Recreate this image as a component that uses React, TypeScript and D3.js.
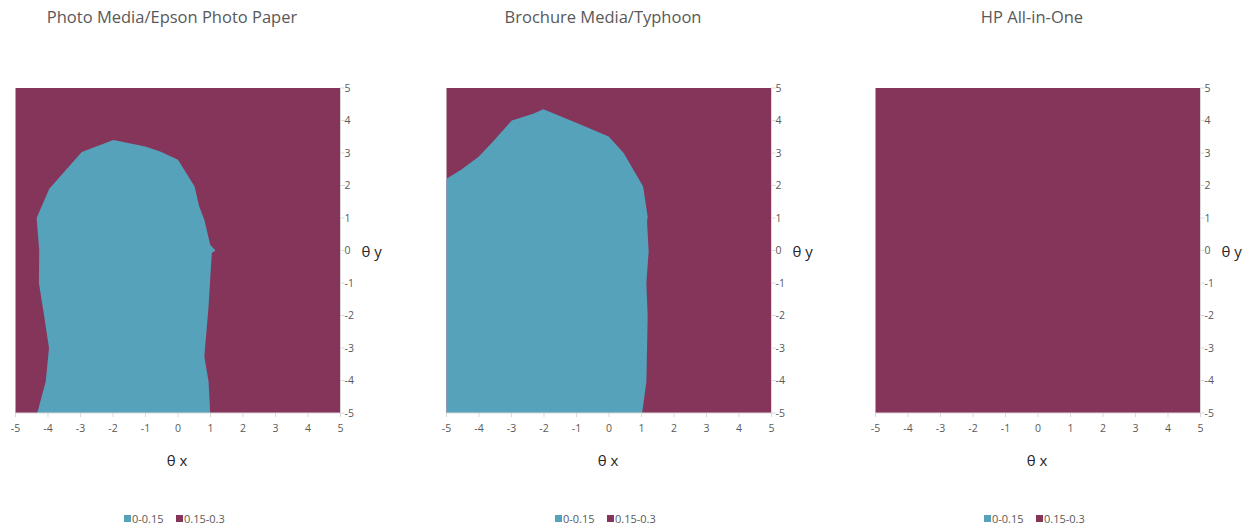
import React from "react";
import * as d3 from "d3";

const titles = ["Photo Media/Epson Photo Paper", "Brochure Media/Typhoon", "HP All-in-One"];
const tickValues = [-5, -4, -3, -2, -1, 0, 1, 2, 3, 4, 5];
const legendLabels = ["0-0.15", "0.15-0.3"];

// Boundary of the 0-0.15 region (theta x, theta y)
const photoX = [-4.33, -4.07, -3.97, -4.12, -4.28, -4.27, -4.35, -3.96, -2.96, -1.99, -1.01, -0.55, 0.0, 0.51, 0.65, 0.81, 0.99, 1.15, 1.04, 0.94, 0.81, 0.94, 0.99];
const photoY = [-5, -4.03, -3.0, -2.0, -1.0, 0.0, 1.0, 1.9, 3.03, 3.4, 3.2, 3.05, 2.79, 1.97, 1.36, 0.95, 0.18, 0.0, -0.08, -1.72, -3.26, -4.03, -5];
const brochureX = [-5, -5, -4.54, -4.02, -3.61, -2.99, -2.33, -2.02, -0.99, -0.01, 0.45, 1.05, 1.19, 1.17, 1.22, 1.15, 1.19, 1.15, 1.02];
const brochureY = [-5, 2.21, 2.49, 2.88, 3.31, 4.0, 4.21, 4.35, 3.92, 3.51, 3.0, 1.97, 1.03, 0.9, -0.03, -1.0, -2.03, -4.03, -5];
const hpX: number[] = [];
const hpY: number[] = [];

const LOW = "#56A2BB";
const HIGH = "#86355A";
const FONT = "'Open Sans', sans-serif";

const panels = [
  { title: titles[0], xs: photoX, ys: photoY, offset: 0 },
  { title: titles[1], xs: brochureX, ys: brochureY, offset: 431 },
  { title: titles[2], xs: hpX, ys: hpY, offset: 860 },
];

const PL = 15.5, PT = 88, PW = 325, PH = 325;

export default function App() {
  const x = d3.scaleLinear().domain([-5, 5]).range([0, PW]);
  const y = d3.scaleLinear().domain([-5, 5]).range([PH, 0]);
  const line = d3.line<[number, number]>().x(d => x(d[0])).y(d => y(d[1]));
  return (
    <svg width={1250} height={529} style={{ position: "absolute", left: 0, top: 0, background: "#fff" }} fontFamily={FONT}>
      {panels.map((p, i) => {
        const pts: [number, number][] = p.xs.map((v, k) => [v, p.ys[k]]);
        const cx = PL + PW / 2;
        return (
          <g key={i} transform={`translate(${p.offset},0)`}>
            <text x={cx - 6} y={23} textAnchor="middle" fontSize={16.5} fill="#595959">{p.title}</text>
            <g transform={`translate(${PL},${PT})`}>
              <rect x={0} y={0} width={PW} height={PH} fill={HIGH} />
              {pts.length > 0 && <path d={line(pts) + "Z"} fill={LOW} />}
              <line x1={0} x2={PW} y1={PH} y2={PH} stroke="#d9d9d9" />
              <line x1={PW} x2={PW} y1={0} y2={PH} stroke="#d9d9d9" />
              {tickValues.map(t => (
                <g key={"x" + t}>
                  <line x1={x(t)} x2={x(t)} y1={PH} y2={PH + 4} stroke="#d9d9d9" />
                  <text x={x(t)} y={PH + 19} textAnchor="middle" fontSize={10.5} fill="#595959">{t}</text>
                </g>
              ))}
              {tickValues.map(t => (
                <g key={"y" + t}>
                  <line x1={PW} x2={PW + 4} y1={y(t)} y2={y(t)} stroke="#d9d9d9" />
                  <text x={PW + 4} y={y(t) + 3.5} fontSize={10.5} fill="#595959">{t}</text>
                </g>
              ))}
              <text x={PW + 21} y={y(0) + 6} fontSize={15} fill="#262626">θ y</text>
              <text x={PW / 2 - 1} y={PH + 53} textAnchor="middle" fontSize={15} fill="#262626">θ x</text>
            </g>
            <g transform={`translate(${cx - 54},0)`}>
              <rect x={0} y={515} width={7} height={7} fill={LOW} />
              <text x={8} y={523} fontSize={11} fill="#595959">{legendLabels[0]}</text>
              <rect x={52} y={515} width={7} height={7} fill={HIGH} />
              <text x={60} y={523} fontSize={11} fill="#595959">{legendLabels[1]}</text>
            </g>
          </g>
        );
      })}
    </svg>
  );
}
